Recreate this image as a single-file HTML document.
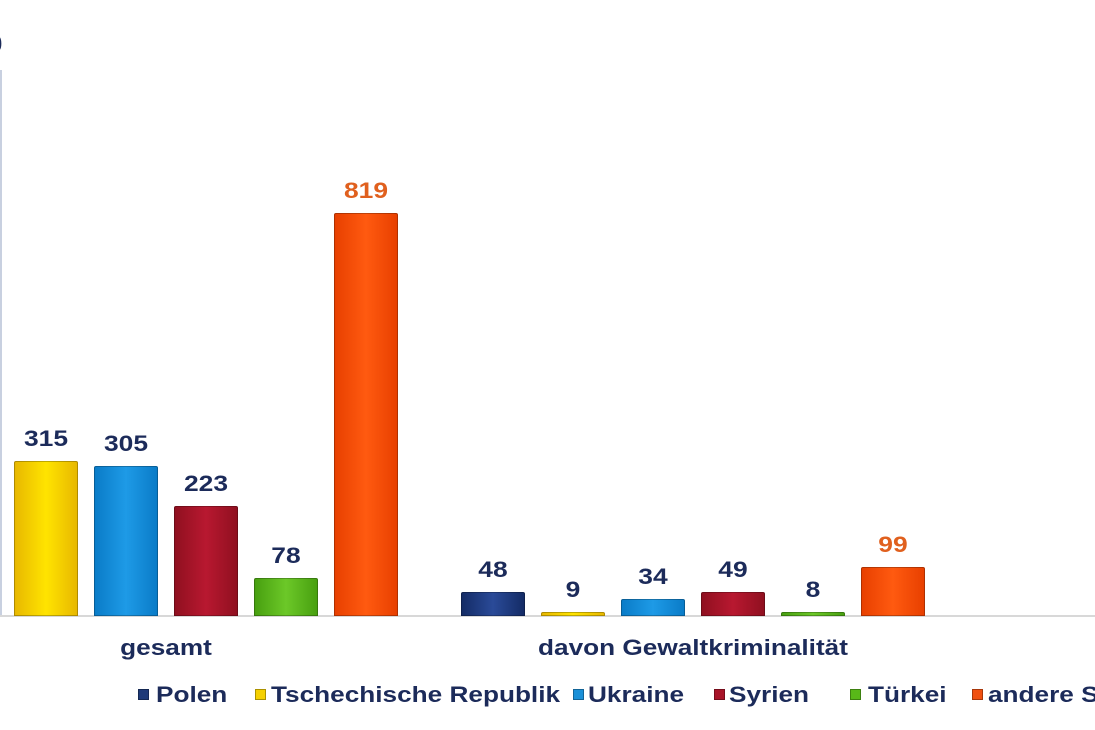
<!DOCTYPE html>
<html><head><meta charset="utf-8"><style>
body{margin:0;width:1095px;height:730px;overflow:hidden;background:#fff;font-family:"Liberation Sans",Arial,sans-serif;font-weight:bold;}
#wrap{position:absolute;left:0;top:0;width:1095px;height:730px;overflow:hidden;}
.c{position:absolute;}
.bar{position:absolute;width:64px;border:1px solid rgba(0,0,0,0.25);box-sizing:border-box;border-radius:2px 2px 0 0;}
.v{position:absolute;width:90px;text-align:center;font-size:22px;color:#1c2b5a;transform:scaleX(1.2);}
.sq{position:absolute;width:11px;height:11px;border:1px solid rgba(0,0,0,.3);box-sizing:border-box;}
.lt{position:absolute;font-size:22px;color:#1c2b5a;top:682px;white-space:nowrap;transform:scaleX(1.19);transform-origin:0 50%;}
</style></head><body><div id="wrap">
<div class="c" style="left:0;top:31px;width:4px;height:30px;overflow:hidden"><div style="position:absolute;left:-11px;font-size:24px;color:#1c2b5a">0</div></div>
<div class="c" style="left:0;top:70px;width:2px;height:546px;background:#c8d0e0"></div>
<div class="c" style="left:0;top:615px;width:1095px;height:2px;background:#d8d8d8"></div>
<div id="bars"></div>
<div class="c" style="left:66px;top:635px;width:200px;text-align:center;font-size:22px;color:#1c2b5a;transform:scaleX(1.19)">gesamt</div>
<div class="c" style="left:493px;top:635px;width:400px;text-align:center;font-size:22px;color:#1c2b5a;transform:scaleX(1.19)">davon Gewaltkriminalität</div>
<div class="sq" style="left:138px;top:689px;background:#1e3a78"></div><div class="lt" style="left:156px">Polen</div>
<div class="sq" style="left:255px;top:689px;background:#f5d000"></div><div class="lt" style="left:271px">Tschechische Republik</div>
<div class="sq" style="left:573px;top:689px;background:#1a90d8"></div><div class="lt" style="left:588px">Ukraine</div>
<div class="sq" style="left:714px;top:689px;background:#a81428"></div><div class="lt" style="left:729px">Syrien</div>
<div class="sq" style="left:850px;top:689px;background:#58b818"></div><div class="lt" style="left:868px">Türkei</div>
<div class="sq" style="left:972px;top:689px;background:#f05010"></div>
<div class="c" style="left:988px;top:676px;width:107px;height:40px;overflow:hidden"><div class="lt" style="left:0;top:6px">andere S</div></div>
<script>
var cols={n:"linear-gradient(90deg,#142c66,#2a4a98,#142c66)",y:"linear-gradient(90deg,#e8b800,#ffe400,#e8b800)",b:"linear-gradient(90deg,#0a7cc8,#1e9ae6,#0a7cc8)",r:"linear-gradient(90deg,#901020,#b81830,#901020)",g:"linear-gradient(90deg,#48a010,#6cc828,#48a010)",o:"linear-gradient(90deg,#e84000,#ff5a10,#e84000)"};
var d=[[14,315,"y"],[94,305,"b"],[174,223,"r"],[254,78,"g"],[334,819,"o"],[461,48,"n"],[541,9,"y"],[621,34,"b"],[701,49,"r"],[781,8,"g"],[861,99,"o"]];
var h="";d.forEach(function(e){var ht=Math.max(3,e[1]*0.492);var top=616-ht;
h+='<div class="bar" style="left:'+e[0]+'px;top:'+top+'px;height:'+ht+'px;background:'+cols[e[2]]+'"></div>';
h+='<div class="v" style="left:'+(e[0]-13)+'px;top:'+(top-35)+'px;color:'+(e[2]=="o"?"#e0601e":"#1c2b5a")+'">'+e[1]+'</div>';});
document.getElementById("bars").innerHTML=h;
</script>
</div></body></html>
